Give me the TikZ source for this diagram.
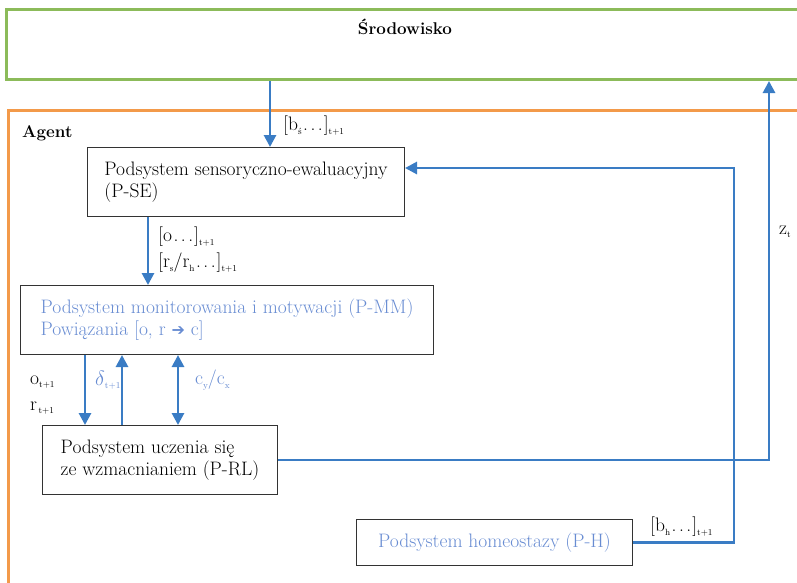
\documentclass[tikz,border=0pt]{standalone}
\usepackage{fontspec}
\newfontfamily\arrowfont{DejaVu Sans}
\usetikzlibrary{positioning,arrows.meta}
\definecolor{envgreen}{RGB}{140,187,90}
\definecolor{agentorange}{RGB}{243,154,74}
\definecolor{linkblue}{RGB}{58,124,196}
\definecolor{textblue}{RGB}{104,140,210}
\newcommand{\lowidx}[1]{\raisebox{-3.5pt}{\fontsize{9}{10}\selectfont #1}}
\newcommand{\wdots}{\kern1.5pt.\kern2.5pt.\kern2.5pt.\kern1pt}

\begin{document}
\begin{tikzpicture}
[x=1pt, y=-1pt, font=\fontsize{19.5}{22}\selectfont,
 sysbox/.style={draw=black!80, line width=1pt, anchor=north west, inner sep=0pt, align=left},
 link/.style={draw=linkblue, line width=2.8pt, -{Triangle[length=12pt,width=12pt]}},
 lbl/.style={anchor=west, inner sep=0pt}]
\useasboundingbox (0,0) rectangle (797,582);
\clip (0,0) rectangle (797,582);

% outer frames
\node (env)[draw=envgreen, line width=3pt, anchor=north west, minimum width=800pt, minimum height=70pt] at (5,8) {};
\node (envtitle)[font=\fontsize{17}{20}\selectfont\bfseries] at (405,27) {Środowisko};
\node (agent)[draw=agentorange, line width=3pt, anchor=north west, minimum width=800pt, minimum height=490pt] at (7,109) {};
\node (agenttitle)[lbl, font=\fontsize{17}{20}\selectfont\bfseries] at (22,133) {Agent};

% subsystems
\node (pse)[sysbox, minimum width=317pt, minimum height=69pt] at (87,147)
  {Podsystem sensoryczno-ewaluacyjny\\(P-SE)};
\node (pmm)[sysbox, minimum width=413pt, minimum height=69pt, text=textblue] at (20,285)
  {Podsystem monitorowania i motywacji (P-MM)\\Powiązania [o, r {\arrowfont\fontsize{16}{20}\selectfont ➔} c]};
\node (prl)[sysbox, minimum width=235pt, minimum height=69pt] at (42,425)
  {Podsystem uczenia się\\ze wzmacnianiem (P-RL)};
\node (ph)[sysbox, minimum width=276pt, minimum height=46pt, text=textblue] at (356,519)
  {Podsystem homeostazy (P-H)};

% helper coordinates
\coordinate (bsx) at (270,0);
\coordinate (ox) at (148,0);
\coordinate (odx) at (85,0);
\coordinate (dux) at (122,0);
\coordinate (cx) at (178,0);
\coordinate (zx) at (769,0);
\coordinate (hx) at (734,0);
\coordinate (hy) at (0,168);

% connectors
\draw[link] (env.south -| bsx) -- (pse.north -| bsx);
\draw[link] (pse.south -| ox) -- (pmm.north -| ox);
\draw[link] (pmm.south -| odx) -- (prl.north -| odx);
\draw[link] (prl.north -| dux) -- (pmm.south -| dux);
\draw[link, {Triangle[length=12pt,width=12pt]}-{Triangle[length=12pt,width=12pt]}] (pmm.south -| cx) -- (prl.north -| cx);
\draw[link] (prl.east) -| (env.south -| zx);
\draw[link] (ph.east) -| (hx |- hy) -- (pse.east |- hy);

% labels
\node (lbs)[lbl] at (283,126) {[b\lowidx{ś}\wdots]\lowidx{t+1}};
\node (lo)[lbl] at (158,237) {[o\wdots]\lowidx{t+1}};
\node (lr)[lbl] at (158,263) {[r\lowidx{s}/r\lowidx{h}\wdots]\lowidx{t+1}};
\node (lot)[lbl] at (30,382) {o\lowidx{t+1}};
\node (lrt)[lbl] at (30,408) {r\lowidx{\,t+1}};
\node (ld)[lbl, text=textblue] at (95,380) {$\delta$\lowidx{t+1}};
\node (lc)[lbl, text=textblue] at (195,380) {c\lowidx{y}/c\lowidx{x}};
\node (lz)[lbl] at (779,232) {z\lowidx{t}};
\node (lbh)[lbl] at (650,527) {[b\lowidx{h}\wdots]\lowidx{t+1}};
\end{tikzpicture}
\end{document}
